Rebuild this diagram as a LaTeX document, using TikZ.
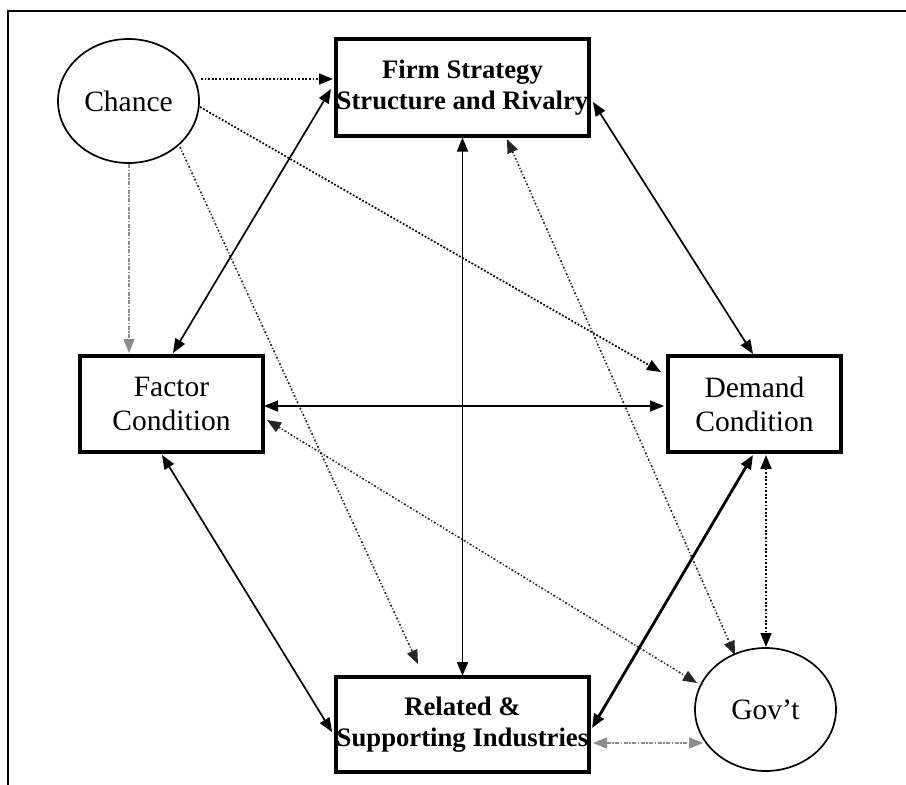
\documentclass[tikz,border=0pt]{standalone}
\usepackage{fontspec}
\setmainfont{Liberation Serif}
\usetikzlibrary{arrows.meta,shapes.geometric}

\tikzset{
  plain/.style={font=\fontsize{29.5}{34}\selectfont, align=center, inner sep=0pt},
  strong/.style={font=\bfseries\fontsize{26.7}{31}\selectfont, align=center, inner sep=0pt},
  forcebox/.style={draw, rectangle, line width=3.4pt},
  outsider/.style={draw, ellipse, line width=1.7pt, plain},
  tip/.style={-{Triangle[length=14pt,width=11pt]}},
  twotip/.style={{Triangle[length=14pt,width=11pt]}-{Triangle[length=14pt,width=11pt]}},
  link/.style={line width=1.7pt},
  heavylink/.style={line width=2.8pt},
  dotlink/.style={line width=1.7pt, dash pattern=on 1.8pt off 1.8pt},
  mixlink/.style={line width=1.6pt, black!85, dash pattern=on 2pt off 2pt on 1pt off 2pt},
  faintlink/.style={line width=1.3pt, black!45, dash pattern=on 4pt off 1.5pt on 1.5pt off 1.5pt},
}

\begin{document}
\begin{tikzpicture}[x=1pt, y=-1pt]
  \useasboundingbox (0,0) rectangle (906,785);

  % page frame (open at the right and bottom)
  \draw[line width=2pt] (8,785) -- (8,11) -- (906,11);

  % the four determinants
  \node[forcebox, strong, minimum width=253pt, minimum height=97pt] (firm) at (462.5,87.5)
    {Firm Strategy\\Structure and Rivalry};
  \node[forcebox, plain, minimum width=183pt, minimum height=96pt] (factor) at (171.5,404)
    {Factor\\Condition};
  \node[forcebox, plain, minimum width=173pt, minimum height=96pt] (demand) at (754.5,404)
    {Demand\\Condition};
  \node[forcebox, strong, minimum width=253pt, minimum height=95pt] (related) at (462.5,724.5)
    {Related \&\\Supporting Industries};

  % outside influences
  \node[outsider, minimum width=141pt, minimum height=124pt] (chance) at (128.5,101) {Chance};
  \node[outsider, minimum width=141pt, minimum height=123pt] (gov) at (765.5,709.5) {Gov’t};

  % chance acts on the diamond
  \draw[dotlink, tip] ([shift={(72.5,-22)}]chance.center) -- ([shift={(-129.5,-8.5)}]firm.center);
  \draw[dotlink, tip] ([shift={(71.5,6)}]chance.center) -- ([shift={(-93.5,-32)}]demand.center);
  \draw[faintlink, tip] ([shift={(0.5,63)}]chance.center) -- ([shift={(-42.5,-51)}]factor.center);
  \draw[mixlink, tip] ([shift={(51.5,46)}]chance.center) -- ([shift={(-44.5,-60.5)}]related.center);

  % mutual links of the diamond
  \draw[link, twotip] ([shift={(-131.5,1.5)}]firm.center) -- ([shift={(1.5,-51)}]factor.center);
  \draw[link, twotip] ([shift={(0,50)}]firm.center) -- ([shift={(0,-48.5)}]related.center);
  \draw[link, twotip] ([shift={(130.5,14.5)}]firm.center) -- ([shift={(-1.5,-50)}]demand.center);
  \draw[link, twotip] ([shift={(92.5,2)}]factor.center) -- ([shift={(-90.5,2)}]demand.center);
  \draw[link, twotip] ([shift={(-9.5,51)}]factor.center) -- ([shift={(-130.5,7.5)}]related.center);
  \draw[heavylink, twotip] ([shift={(-1.5,51)}]demand.center) -- ([shift={(129.5,3.5)}]related.center);

  % government links
  \draw[mixlink, twotip] ([shift={(44.5,51.5)}]firm.center) -- ([shift={(-30.5,-54.5)}]gov.center);
  \draw[mixlink, twotip] ([shift={(95.5,16)}]factor.center) -- ([shift={(-68.5,-26.5)}]gov.center);
  \draw[dotlink, twotip] ([shift={(11.5,51)}]demand.center) -- ([shift={(0.5,-62.5)}]gov.center);
  \draw[faintlink, twotip] ([shift={(130.5,18.5)}]related.center) -- ([shift={(-62.5,33.5)}]gov.center);
\end{tikzpicture}
\end{document}
